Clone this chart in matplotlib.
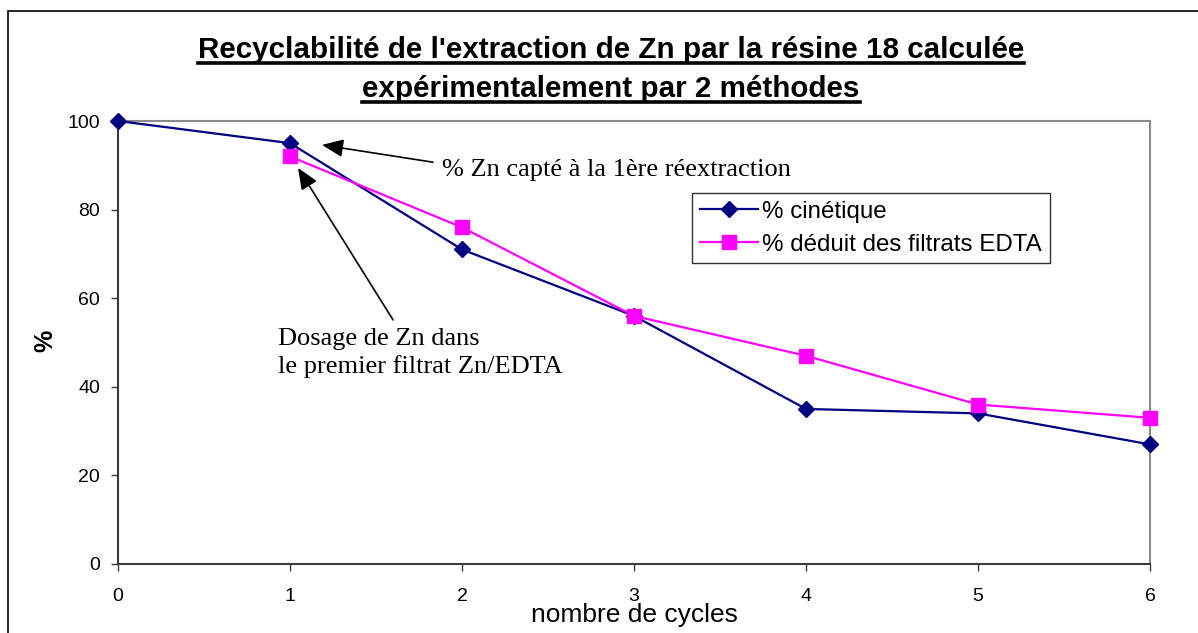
import matplotlib
matplotlib.use("Agg")
import matplotlib.pyplot as plt
from matplotlib.lines import Line2D
from matplotlib.patches import Rectangle

# Data
cycles = [0, 1, 2, 3, 4, 5, 6]
cinetique = [100, 95, 71, 56, 35, 34, 27]
cycles_edta = [1, 2, 3, 4, 5, 6]
edta = [92, 76, 56, 47, 36, 33]
series_labels = ["% cinétique", "% déduit des filtrats EDTA"]
title_lines = ["Recyclabilité de l'extraction de Zn par la résine 18 calculée",
               "expérimentalement par 2 méthodes"]
xlabel = "nombre de cycles"
ylabel = "%"
note_top = "% Zn capté à la 1ère réextraction"
note_bottom = "Dosage de Zn dans\nle premier filtrat Zn/EDTA"

SANS = ["Liberation Sans", "DejaVu Sans"]
SERIF = ["Liberation Serif", "DejaVu Serif"]

W, H = 1198, 633
fig = plt.figure(figsize=(W / 100, H / 100), dpi=100)
fig.patch.set_facecolor("white")

# outer chart frame (runs off the right/bottom edges)
fig.patches.append(Rectangle((8 / W, -0.2), 1.5, 1 - 11 / H + 0.2,
                             transform=fig.transFigure, fill=False,
                             edgecolor="black", lw=1.2, clip_on=False))

ax = fig.add_axes([118 / W, 1 - 564 / H, (1150 - 118) / W, (564 - 121) / H])
ax.set_xlim(0, 6)
ax.set_ylim(0, 100)

ax.plot(cycles, cinetique, color="#000080", lw=1.6, marker="D",
        markersize=8, markerfacecolor="#000080", markeredgecolor="#000080",
        label=series_labels[0], zorder=3, clip_on=False)
ax.plot(cycles_edta, edta, color="#FF00FF", lw=1.6, marker="s",
        markersize=10, markerfacecolor="#FF00FF", markeredgecolor="#FF00FF",
        label=series_labels[1], zorder=3, clip_on=False)

ax.set_xticks(range(0, 7))
ax.set_yticks(range(0, 101, 20))
for sp in ("left", "bottom"):
    ax.spines[sp].set_color("#3a3a3a")
    ax.spines[sp].set_linewidth(1.5)
for sp in ("top", "right"):
    ax.spines[sp].set_color("#8a8a8a")
    ax.spines[sp].set_linewidth(1.5)
ax.tick_params(axis="x", direction="out", length=5, width=1, color="#3a3a3a",
               pad=12, labelsize=14)
ax.tick_params(axis="y", direction="out", length=5, width=1, color="#3a3a3a",
               pad=8, labelsize=14)
for lab in ax.get_xticklabels() + ax.get_yticklabels():
    lab.set_family(SANS)

leg = ax.legend(loc="upper left", bbox_to_anchor=(0.556, 0.8375),
                borderaxespad=0, frameon=True, fancybox=False,
                prop={"family": SANS, "size": 17.4}, handlelength=2.4,
                handletextpad=0.2, borderpad=0.32, labelspacing=0.45)
leg.get_frame().set_edgecolor("black")
leg.get_frame().set_linewidth(1.0)

# axis labels
fig.text(634 / W, 1 - 615 / H, xlabel, ha="center", va="center",
         family=SANS, fontsize=19)
fig.text(45 / W, 1 - 341 / H, ylabel, ha="center", va="center",
         family=SANS, fontsize=18, fontweight="bold", rotation=90)

# annotations with arrows
arrow_kw = dict(arrowstyle="-|>,head_length=1.3,head_width=0.55",
                color="black", lw=1.2, shrinkA=0, shrinkB=0)
ax.annotate("", xy=(1.186, 94.6), xytext=(1.831, 90.7), arrowprops=arrow_kw)
ax.text(1.885, 89.0, note_top, ha="left", va="center", family=SERIF,
        fontsize=19)
ax.annotate("", xy=(1.047, 89.4), xytext=(1.599, 55.1), arrowprops=arrow_kw)
ax.text(0.93, 47.6, note_bottom, ha="left", va="center", family=SERIF,
        fontsize=19, linespacing=1.3)

# underlined two-line title
baselines = [58, 97]
titles = []
for line, b in zip(title_lines, baselines):
    t = fig.text(611 / W, 1 - b / H, line, ha="center", va="baseline",
                 family=SANS, fontsize=21.3, fontweight="bold")
    titles.append((t, b))
fig.canvas.draw()
renderer = fig.canvas.get_renderer()
for t, b in titles:
    bb = t.get_window_extent(renderer)
    y = 1 - (b + 5) / H
    fig.lines.append(Line2D([bb.x0 / W, bb.x1 / W], [y, y],
                            transform=fig.transFigure, color="black", lw=2.6))

fig.savefig("out.png", dpi=100, facecolor="white")
